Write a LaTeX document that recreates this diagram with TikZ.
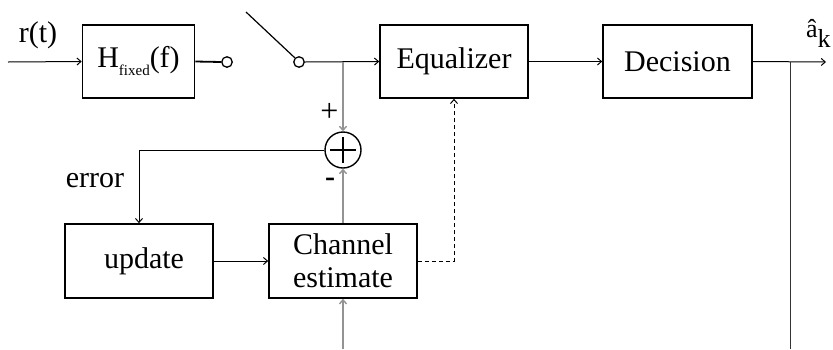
\documentclass[tikz,border=0pt]{standalone}
\usepackage{fontspec}
\setmainfont{Liberation Serif}
\usetikzlibrary{arrows.meta}
\begin{document}
\begin{tikzpicture}[x=1pt,y=-1pt,
  >={Straight Barb[length=4pt,width=7pt]},
  blk/.style={draw,line width=1.6pt,rectangle,inner sep=0pt,
    font=\fontsize{30}{35}\selectfont,align=center},
  lbl/.style={inner sep=0pt,font=\fontsize{30}{35}\selectfont},
  port/.style={draw,line width=1.3pt,circle,minimum size=10.5pt,inner sep=0pt,fill=white},
  wire/.style={line width=1pt},
  gwire/.style={line width=1.4pt,draw=gray!85},
  ]
\useasboundingbox (0,0) rectangle (833,349);

% blocks
\node[blk,minimum width=112pt,minimum height=73pt] (H) at (138.5,61.5)
  {H\raisebox{-8pt}{\fontsize{15}{15}\selectfont fixed}(f)};
\node[blk,minimum width=148pt,minimum height=73pt] (eq) at (454,61.5) {Equalizer};
\node[blk,minimum width=149pt,minimum height=73pt] (dec) at (677.5,61.5) {Decision};
\node[blk,minimum width=148pt,minimum height=74pt] (upd) at (139,261) {\hspace*{10pt}update};
\node[blk,minimum width=148pt,minimum height=74pt] (ch) at (343,261) {Channel\\[-2pt]estimate};
\node[draw,circle,line width=1.4pt,minimum size=36pt,inner sep=0pt] (sum) at (343,150) {};
\draw[line width=2pt] ([xshift=-13pt]sum.center) -- ([xshift=13pt]sum.center)
  ([yshift=-13pt]sum.center) -- ([yshift=13pt]sum.center);

% switch contacts
\node[port] (o1) at (227,62) {};
\node[port] (o2) at (299,62) {};
\coordinate (sw) at (246,12);

% helper points
\coordinate (in) at (8,62);
\coordinate (j1) at (343,62);
\coordinate (j2) at (790,62);
\coordinate (out) at (826,62);
\coordinate (ebend) at (139,150);
\coordinate (dbend) at (454,261);
\coordinate (chin) at (343,349);
\coordinate (fb) at (790,349);

% labels
\node[lbl,anchor=base] at (38,42) {r(t)};
\node[lbl,anchor=base] at (95,187) {error};
\node[inner sep=0pt,font=\fontsize{32}{32}\selectfont] at (329.5,112.5) {+};
\node[inner sep=0pt,font=\fontsize{30}{30}\selectfont\bfseries] at (330,182.5) {-};
\node[inner sep=0pt,anchor=base west,font=\fontsize{26}{26}\selectfont] at (806,37)
  {â\raisebox{-10pt}{k}};

% signal path
\draw[wire,->] (in) -- (H.west);
\draw[line width=1.8pt] (H.east) -- (o1.west);
\draw[line width=1.2pt] (sw) -- (o2.north west);
\draw[wire,->] (o2.east) -- (eq.west);
\draw[wire,->] (eq.east) -- (dec.west);
\draw[wire,->] (dec.east) -- (out);
\draw[wire,draw=black!80] (j2) -- (fb);

% adaptation loop
\draw[gwire,->] (j1) -- (sum.north);
\draw[gwire,->] (ch.north) -- (sum.south);
\draw[gwire,->] (chin) -- (ch.south);
\draw[wire,->] (sum.west) -- (ebend) -- (upd.north);
\draw[wire,->] (upd.east) -- (ch.west);
\draw[wire,dashed,dash pattern=on 4pt off 3pt,->] (ch.east) -- (dbend) -- (eq.south);
\end{tikzpicture}
\end{document}
